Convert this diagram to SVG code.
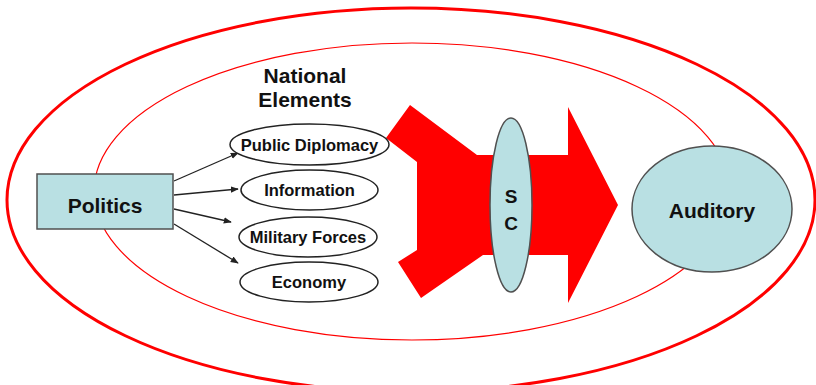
<svg xmlns="http://www.w3.org/2000/svg" width="816" height="385" viewBox="0 0 816 385">
<defs>
<style>
.ring{fill:none;stroke:#ff0000}
.blue{fill:#b9e0e3;stroke:#505050;stroke-width:1.5}
.elem{fill:#ffffff;stroke:#222222;stroke-width:1.5}
.t{font-family:"Liberation Sans",Arial,sans-serif;font-weight:bold;fill:#111111;text-anchor:middle}
.conn{stroke:#222222;stroke-width:1.3;fill:none;marker-end:url(#ah)}
</style>
<marker id="ah" viewBox="0 0 10 10" refX="9" refY="5" markerWidth="8" markerHeight="8" markerUnits="userSpaceOnUse" orient="auto">
<path d="M0,1 L10,5 L0,9 z" fill="#222222"/>
</marker>
</defs>
<rect width="816" height="385" fill="#ffffff"/>
<g id="outer-ring"><ellipse class="ring" cx="411" cy="200" rx="404" ry="192" stroke-width="3"/></g>
<g id="inner-ring"><ellipse class="ring" cx="412" cy="191.5" rx="318" ry="148.5" stroke-width="1.2"/></g>
<g id="big-arrow"><polygon points="410,105 477,155 568,155 568,107 618,205 568,303 568,255 483,255 421,298 398,262 417,250 417,162 386,138" fill="#ff0000"/></g>
<g id="national-elements-label">
<text class="t" x="305" y="83" font-size="21">National</text>
<text class="t" x="305" y="107" font-size="21">Elements</text>
</g>
<g id="connectors">
<line class="conn" x1="174" y1="181" x2="238" y2="153"/>
<line class="conn" x1="174" y1="195" x2="238" y2="189"/>
<line class="conn" x1="174" y1="209" x2="231" y2="222"/>
<line class="conn" x1="174" y1="224" x2="238" y2="263"/>
</g>
<g id="politics">
<rect class="blue" x="37" y="174" width="136" height="55"/>
<text class="t" x="105" y="213" font-size="21">Politics</text>
</g>
<g id="public-diplomacy">
<ellipse class="elem" cx="309.5" cy="144.5" rx="79.5" ry="20.5"/>
<text class="t" x="309.5" y="150.5" font-size="16.5">Public Diplomacy</text>
</g>
<g id="information">
<ellipse class="elem" cx="309.5" cy="190" rx="68.5" ry="20"/>
<text class="t" x="309.5" y="196" font-size="16.5">Information</text>
</g>
<g id="military-forces">
<ellipse class="elem" cx="308" cy="237" rx="69" ry="20"/>
<text class="t" x="308" y="243" font-size="16.5">Military Forces</text>
</g>
<g id="economy">
<ellipse class="elem" cx="309" cy="282" rx="69" ry="20"/>
<text class="t" x="309" y="288" font-size="16.5">Economy</text>
</g>
<g id="sc">
<ellipse class="blue" cx="511" cy="205" rx="21" ry="87"/>
<text class="t" x="511" y="203" font-size="19">S</text>
<text class="t" x="511" y="230" font-size="19">C</text>
</g>
<g id="auditory">
<ellipse class="blue" cx="712" cy="209" rx="80" ry="63"/>
<text class="t" x="712" y="218" font-size="21">Auditory</text>
</g>
</svg>
